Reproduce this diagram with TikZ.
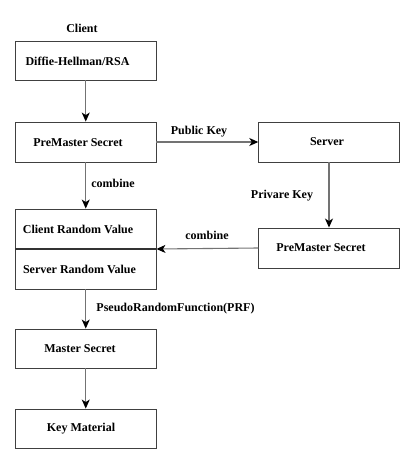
\documentclass[tikz,border=0pt]{standalone}
\usepackage{fontspec}
\setmainfont{Liberation Serif}
\usetikzlibrary{arrows.meta}
\begin{document}
\begin{tikzpicture}[x=1pt,y=-1pt,
  box/.style={draw=black!75,line width=0.9pt,fill=white,minimum width=140.5pt,inner sep=0pt},
  lbl/.style={font=\bfseries\fontsize{12}{14}\selectfont,inner sep=0pt},
  conn/.style={draw=black!55,line width=1.1pt,-{Stealth[length=9pt,width=8pt,inset=2.5pt,color=black]}}]
\useasboundingbox (0,0) rectangle (415,464);
% boxes
\node[box,minimum height=39pt] (dh) at (85.75,60.5) {};
\node[box,minimum height=40pt] (pmc) at (85.75,142) {};
\node[box,minimum height=80pt] (rnd) at (85.75,249) {};
\draw[draw=black!80,line width=1.2pt] (rnd.west) -- (rnd.east);
\node[box,minimum height=39pt] (ms) at (85.75,348.5) {};
\node[box,minimum height=39pt] (km) at (85.75,428.5) {};
\node[box,minimum height=40pt] (srv) at (329,142) {};
\node[box,minimum height=40pt] (pms) at (329,248) {};
% texts
\node[lbl] (tclient) at (82,28) {Client};
\node[lbl] (tdh) at (77.5,61) {Diffie-Hellman/RSA};
\node[lbl] (tpmc) at (78,143) {PreMaster Secret};
\node[lbl] (tcrv) at (78,229) {Client Random Value};
\node[lbl] (tsrv) at (79.5,269) {Server Random Value};
\node[lbl] (tms) at (80,349) {Master Secret};
\node[lbl] (tkm) at (81,429) {Key Material};
\node[lbl] (tserver) at (327,142) {Server};
\node[lbl] (tpms) at (321,248) {PreMaster Secret};
% connector labels
\node[lbl] (lcomb1) at (113,183) {combine};
\node[lbl] (lpub) at (199,131.5) {Public Key};
\node[lbl] (lpriv) at (282,195.5) {Privare Key};
\node[lbl] (lcomb2) at (207,235.5) {combine};
\node[lbl] (lprf) at (175.5,309) {PseudoRandomFunction(PRF)};
% connectors
\draw[conn] (dh.south) -- (pmc.north);
\draw[conn] (pmc.south) -- (rnd.north);
\draw[conn] (pmc.east) -- (srv.west);
\draw[conn] (srv.south) -- (pms.north);
\draw[conn] (pms.west) -- (rnd.east);
\draw[conn] (rnd.south) -- (ms.north);
\draw[conn] (ms.south) -- (km.north);
\end{tikzpicture}
\end{document}
